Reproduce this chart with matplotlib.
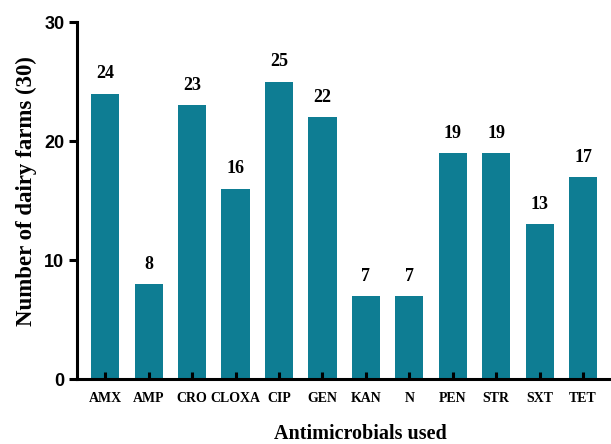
import matplotlib
matplotlib.use("Agg")
import matplotlib.pyplot as plt

categories = ["AMX", "AMP", "CRO", "CLOXA", "CIP", "GEN", "KAN", "N", "PEN", "STR", "SXT", "TET"]
values = [24, 8, 23, 16, 25, 22, 7, 7, 19, 19, 13, 17]
yticks = [0, 10, 20, 30]

serif = ["Liberation Serif", "DejaVu Serif"]
sans = ["Liberation Sans", "DejaVu Sans"]

fig = plt.figure(figsize=(6.11, 4.44), dpi=100)
ax = fig.add_axes([0.126, 0.146, 0.871, 0.804])

x = list(range(len(categories)))
bars = ax.bar(x, values, width=0.65, color="#0e7d93", edgecolor="none", zorder=1)
for xi, v in zip(x, values):
    ax.text(xi, v + 0.95, str(v), ha="center", va="bottom", fontsize=13,
            fontweight="bold", family=serif)

ax.set_xlim(-0.65, 11.6)
ax.set_ylim(0, 30)
ax.set_yticks(yticks)
ax.set_yticklabels([str(t) for t in yticks], fontsize=13, fontweight="bold", family=sans)
ax.set_xticks(x)
ax.set_xticklabels(categories, fontsize=10, fontweight="bold", family=serif)

for s in ["top", "right"]:
    ax.spines[s].set_visible(False)
for s in ["left", "bottom"]:
    ax.spines[s].set_linewidth(2.2)
    ax.spines[s].set_zorder(3)
ax.tick_params(axis="x", direction="in", length=5, width=2.2, pad=9)
ax.tick_params(axis="y", direction="out", length=6, width=2.2, pad=3)

ax.set_ylabel("Number of dairy farms (30)", fontsize=16.5, fontweight="bold", family=serif)
ax.yaxis.set_label_coords(-0.076, 0.527)
ax.set_xlabel("Antimicrobials used", fontsize=14.5, fontweight="bold", family=serif)
ax.xaxis.set_label_coords(0.532, -0.126)

fig.savefig("out.png", dpi=100)
